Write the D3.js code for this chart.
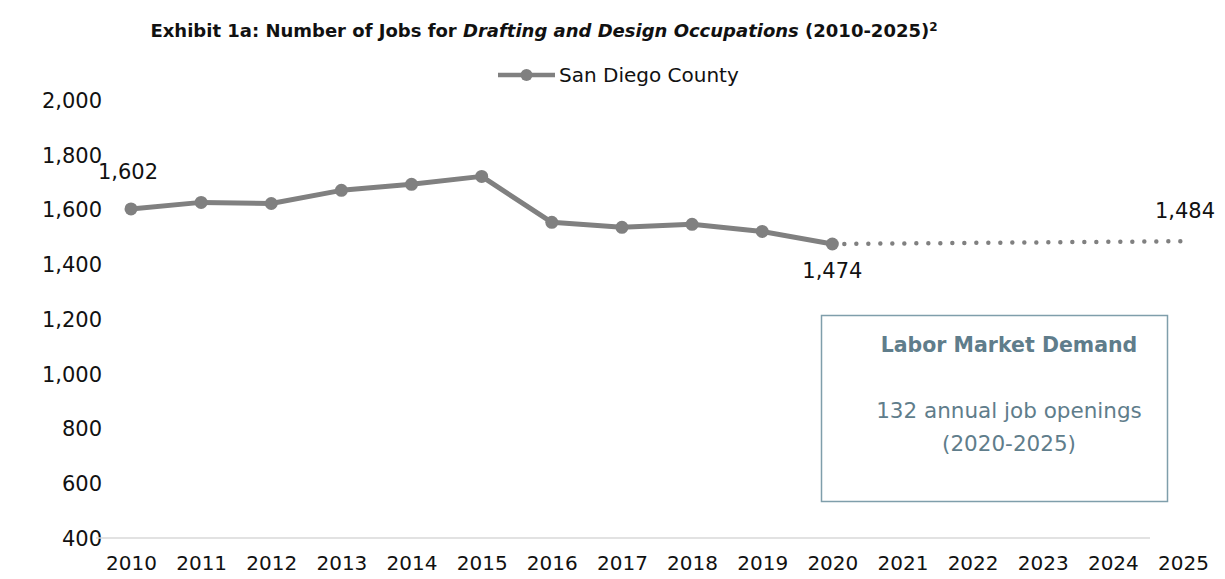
<!DOCTYPE html>
<html>
<head>
<meta charset="utf-8">
<script src="https://cdn.jsdelivr.net/npm/d3@7"></script>
<style>
  body { margin: 0; background: #fff; }
  text { font-family: "DejaVu Sans", sans-serif; }
</style>
</head>
<body>
<script>
const canvWidth = 1225, canvHeight = 579;
const fontFam = "'DejaVu Sans', sans-serif";

// data
const years = [2010, 2011, 2012, 2013, 2014, 2015, 2016, 2017, 2018, 2019, 2020, 2021, 2022, 2023, 2024, 2025];
const actualYears = [2010, 2011, 2012, 2013, 2014, 2015, 2016, 2017, 2018, 2019, 2020];
const actualJobs = [1602, 1626, 1622, 1670, 1692, 1721, 1553, 1535, 1546, 1520, 1474];
const projYears = [2020, 2025];
const projJobs = [1474, 1484];
const yTicks = [400, 600, 800, 1000, 1200, 1400, 1600, 1800, 2000];

const lineColor = "#808080";
const boxColor = "#7f9eab";
const boxText = "#5f7d8b";

const svg = d3.select("body").append("svg")
    .attr("width", canvWidth)
    .attr("height", canvHeight);

const xScale = d3.scalePoint().domain(years).range([131, 1183]);
const yScale = d3.scaleLinear().domain([400, 2000]).range([538, 100]);

// title
const title = svg.append("text")
    .attr("x", 544)
    .attr("y", 37)
    .attr("font-size", "18px")
    .attr("font-weight", "bold")
    .attr("fill", "#111")
    .style("text-anchor", "middle");
title.append("tspan").text("Exhibit 1a: Number of Jobs for ");
title.append("tspan").attr("font-style", "italic").text("Drafting and Design Occupations");
title.append("tspan").text(" (2010-2025)");
title.append("tspan").attr("font-size", "12px").attr("dy", "-6").text("2");

// legend
const leg = svg.append("g").attr("transform", "translate(498,75)");
leg.append("line").attr("x1", 0).attr("x2", 57).attr("y1", 0).attr("y2", 0)
    .attr("stroke", lineColor).attr("stroke-width", 4.5);
leg.append("circle").attr("cx", 28.5).attr("cy", 0).attr("r", 6).attr("fill", lineColor);
leg.append("text").attr("x", 61).attr("y", 7)
    .attr("font-size", "20px").attr("fill", "#111").text("San Diego County");

// y axis labels
const yAxis = d3.axisLeft(yScale).tickValues(yTicks).tickSize(0).tickPadding(0)
    .tickFormat(d3.format(","));
const yg = svg.append("g").attr("transform", "translate(102,0)").call(yAxis);
yg.select(".domain").remove();
yg.selectAll("text").attr("font-size", "21px").attr("fill", "#111")
    .attr("font-family", fontFam).attr("dy", "0.35em");

// x axis
const xAxis = d3.axisBottom(xScale).tickSize(0).tickPadding(18);
const xg = svg.append("g").attr("transform", "translate(0,538)").call(xAxis);
xg.select(".domain").attr("d", "M96,0H1150").attr("stroke", "#d9d9d9").attr("stroke-width", 1.5);
xg.selectAll("text").attr("font-size", "20px").attr("fill", "#111")
    .attr("font-family", fontFam);

// projection dotted line
const line = d3.line().x(d => xScale(d[0])).y(d => yScale(d[1]));
svg.append("path")
    .datum(d3.zip(projYears, projJobs))
    .attr("d", line)
    .attr("fill", "none")
    .attr("stroke", lineColor)
    .attr("stroke-width", 4.5)
    .attr("stroke-linecap", "round")
    .attr("stroke-dasharray", "0,12");

// actual line
const actual = d3.zip(actualYears, actualJobs);
svg.append("path")
    .datum(actual)
    .attr("d", line)
    .attr("fill", "none")
    .attr("stroke", lineColor)
    .attr("stroke-width", 5)
    .attr("stroke-linejoin", "round");

svg.selectAll("circle.pt")
    .data(actual)
    .enter().append("circle")
    .attr("class", "pt")
    .attr("cx", d => xScale(d[0]))
    .attr("cy", d => yScale(d[1]))
    .attr("r", 6.5)
    .attr("fill", lineColor);

// data labels
const fmt = d3.format(",");
const labels = [
    {yr: 2010, v: actualJobs[0], dx: -3, dy: -30},
    {yr: 2020, v: actualJobs[10], dx: 0, dy: 34},
    {yr: 2025, v: projJobs[1], dx: 2, dy: -23}
];
svg.selectAll("text.dl")
    .data(labels)
    .enter().append("text")
    .attr("class", "dl")
    .attr("x", d => xScale(d.yr) + d.dx)
    .attr("y", d => yScale(d.v) + d.dy)
    .attr("font-size", "21px")
    .attr("fill", "#111")
    .style("text-anchor", "middle")
    .text(d => fmt(d.v));

// annotation box
const box = svg.append("g");
box.append("rect")
    .attr("x", 821.5).attr("y", 315.5)
    .attr("width", 346).attr("height", 186)
    .attr("fill", "#fff")
    .attr("stroke", boxColor).attr("stroke-width", 1.5);
box.append("text")
    .attr("x", 1009).attr("y", 352)
    .attr("font-size", "20.5px").attr("font-weight", "bold")
    .attr("fill", boxText).style("text-anchor", "middle")
    .text("Labor Market Demand");
box.append("text")
    .attr("x", 1009).attr("y", 418)
    .attr("font-size", "21.5px")
    .attr("fill", boxText).style("text-anchor", "middle")
    .text("132 annual job openings");
box.append("text")
    .attr("x", 1009).attr("y", 451)
    .attr("font-size", "21.5px")
    .attr("fill", boxText).style("text-anchor", "middle")
    .text("(2020-2025)");
</script>
</body>
</html>
